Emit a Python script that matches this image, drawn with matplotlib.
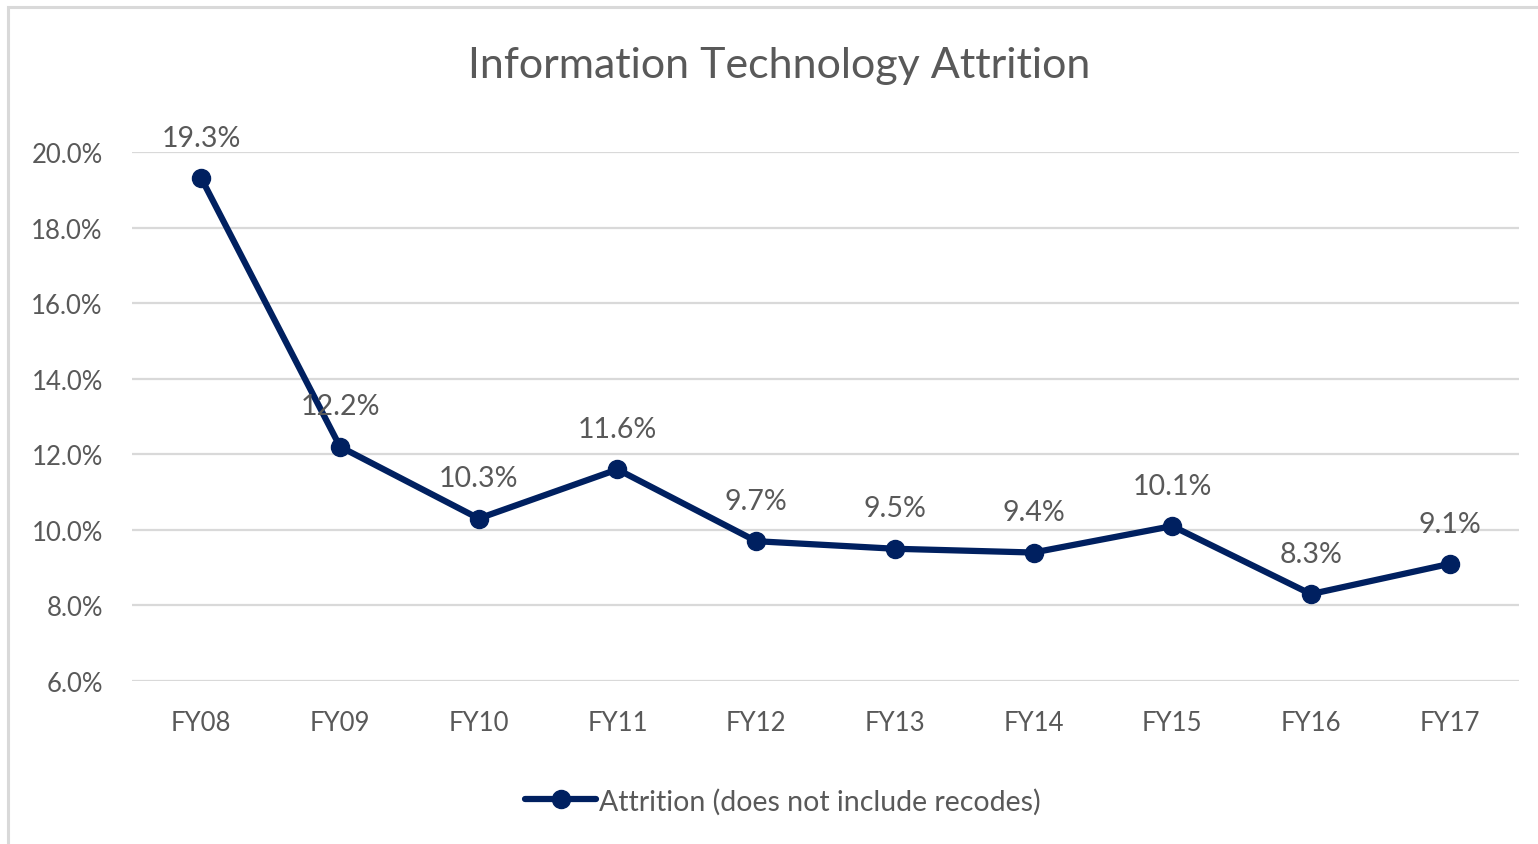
import matplotlib
matplotlib.use("Agg")
import matplotlib.pyplot as plt
from matplotlib.patches import Rectangle
from matplotlib.ticker import FuncFormatter

years = ["FY08", "FY09", "FY10", "FY11", "FY12", "FY13", "FY14", "FY15", "FY16", "FY17"]
attrition = [19.3, 12.2, 10.3, 11.6, 9.7, 9.5, 9.4, 10.1, 8.3, 9.1]
y_ticks = [6, 8, 10, 12, 14, 16, 18, 20]
series_label = "Attrition (does not include recodes)"
title = "Information Technology Attrition"

plt.rcParams['font.family'] = ['Lato', 'DejaVu Sans']
navy = "#002060"
gray_text = "#595959"
grid_c = "#d9d9d9"

fig = plt.figure(figsize=(15.38, 8.45), dpi=100)
ax = fig.add_axes([132/1538, 1-682/845, (1519-132)/1538, (682-153)/845])

x = list(range(len(years)))
ax.plot(x, attrition, color=navy, lw=4.5, marker='o', markersize=13,
        solid_capstyle='round', solid_joinstyle='round', label=series_label, zorder=3)

for xi, v in zip(x, attrition):
    ax.annotate(f"{v:.1f}%", (xi, v), xytext=(0, 29), textcoords='offset points',
                ha='center', va='center', fontsize=20.5, color=gray_text, zorder=4)

ax.set_xlim(-0.5, len(years) - 0.5)
ax.set_ylim(6, 20)
ax.set_yticks(y_ticks)
ax.yaxis.set_major_formatter(FuncFormatter(lambda v, p: f"{v:.1f}%"))
ax.set_xticks(x)
ax.set_xticklabels(years)
ax.tick_params(axis='both', length=0, labelsize=18.5, labelcolor=gray_text)
ax.tick_params(axis='y', pad=21)
ax.tick_params(axis='x', pad=21)
ax.grid(axis='y', color=grid_c, lw=1.6)
ax.set_axisbelow(True)
for s in ax.spines.values():
    s.set_visible(False)

fig.text(779/1538, 1-66/845, title, ha='center', va='center', fontsize=31, color=gray_text)

leg = fig.legend(loc='center', bbox_to_anchor=(783/1538, 1-802/845), frameon=False,
                 fontsize=20.5, handlelength=2.5, handletextpad=0.1, labelcolor=gray_text)

fig.patches.append(Rectangle((8/1538, -0.05), 1.1, 1.05 - 8/845, transform=fig.transFigure,
                             fill=False, edgecolor=grid_c, lw=2.2))

fig.savefig("out.png", dpi=100, facecolor='white')
